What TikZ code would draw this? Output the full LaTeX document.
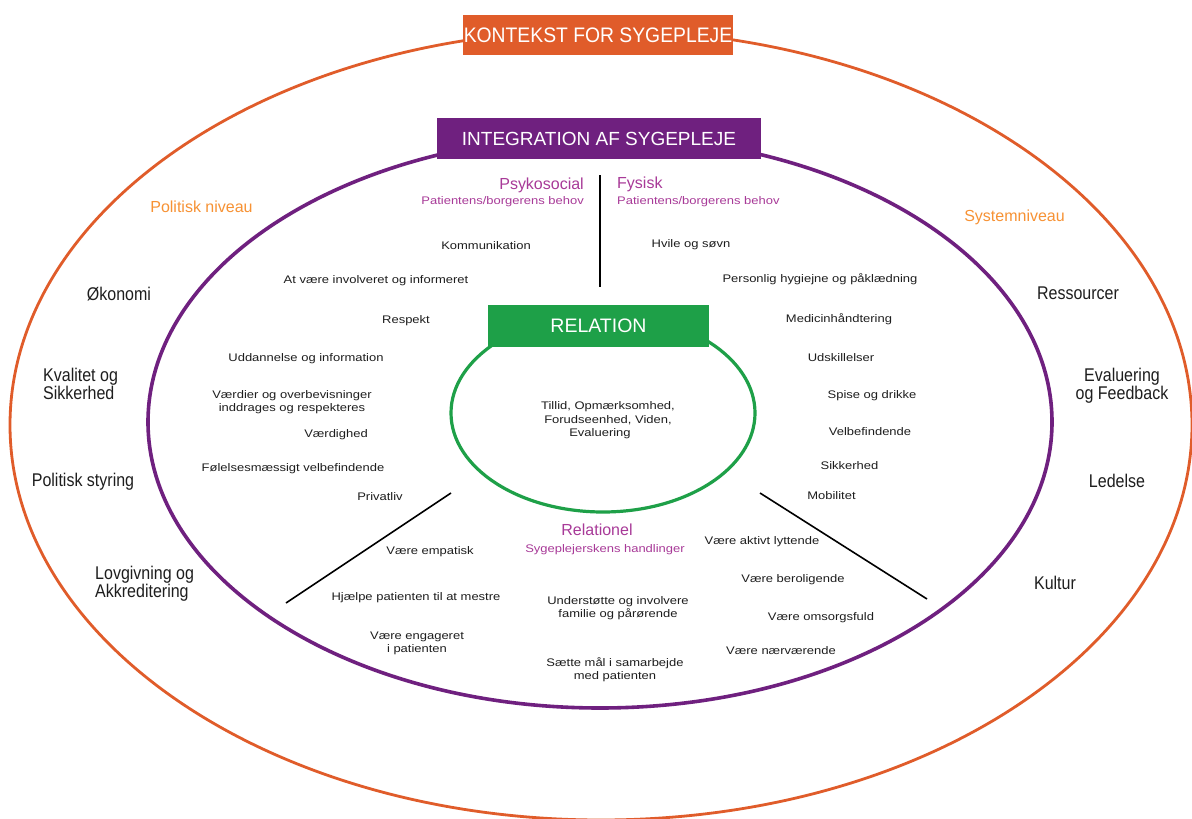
\documentclass[tikz,border=0pt]{standalone}
\usepackage{fontspec}
\setmainfont{Liberation Sans}
\newfontfamily\smallf[FakeStretch=1.18]{Liberation Sans}
\newfontfamily\bigf[FakeStretch=0.87]{Liberation Sans}
\newfontfamily\titlef[FakeStretch=0.92]{Liberation Sans}
\definecolor{ctxorange}{RGB}{224,92,42}
\definecolor{lblorange}{RGB}{247,146,52}
\definecolor{intpurple}{RGB}{111,32,127}
\definecolor{relgreen}{RGB}{30,160,72}
\definecolor{catpurple}{RGB}{168,58,152}
\definecolor{txtgray}{RGB}{30,30,30}
\tikzset{
  smalltxt/.style={font=\smallf\fontsize{11}{13}\selectfont, inner sep=0pt, align=center, text=txtgray},
  outertxt/.style={font=\bigf\fontsize{18.4}{15}\selectfont, inner sep=0pt, text=txtgray},
  leveltxt/.style={font=\fontsize{16}{19}\selectfont, inner sep=0pt, text=lblorange},
  cattxt/.style={font=\fontsize{16}{19}\selectfont, inner sep=0pt, text=catpurple},
  subtxt/.style={font=\smallf\fontsize{11}{13}\selectfont, inner sep=0pt, text=catpurple},
  titlebox/.style={inner sep=0pt, text=white, font=\titlef\fontsize{21}{23}\selectfont},
  divider/.style={draw=black, line width=1.6pt}
}
\begin{document}
\begin{tikzpicture}[x=1pt,y=-1pt]
\useasboundingbox (0,0) rectangle (1192,819);
\clip (0,0) rectangle (1192,819);
\fill[white] (0,0) rectangle (1192,819);

% ellipses
\draw[ctxorange, line width=2.8pt] (601,425) ellipse [x radius=591pt, y radius=395pt];
\draw[intpurple, line width=3.6pt] (600,422) ellipse [x radius=452pt, y radius=286pt];
\draw[relgreen, line width=3.2pt] (603,413) ellipse [x radius=152pt, y radius=99pt];

% title boxes
\node[titlebox, fill=ctxorange, minimum width=270pt, minimum height=40pt] (kontekst) at (598,35) {KONTEKST FOR SYGEPLEJE};
\node[titlebox, fill=intpurple, minimum width=324pt, minimum height=41pt, font=\fontsize{19}{21}\selectfont] (integration) at (599,138.5) {INTEGRATION AF SYGEPLEJE};
\node[titlebox, fill=relgreen, minimum width=221pt, minimum height=42pt, font=\fontsize{19.5}{21}\selectfont] (relation) at (598.5,326) {RELATION};

% dividers
\coordinate (vtop) at (600,175);
\coordinate (vbot) at (600,287);
\coordinate (ltop) at (451,493);
\coordinate (lbot) at (286,603);
\coordinate (rtop) at (760,493);
\coordinate (rbot) at (927,599);
\draw[divider] (vtop) -- (vbot);
\draw[divider] (ltop) -- (lbot);
\draw[divider] (rtop) -- (rbot);

% level labels
\node[leveltxt] (politisk) at (201.5,207) {Politisk niveau};
\node[leveltxt] (system) at (1014.5,217) {Systemniveau};

% outer labels left
\node[outertxt] (okonomi) at (119,294) {Økonomi};
\node[outertxt, anchor=west, align=left] (kvalitet) at (43,383.5) {Kvalitet og\\Sikkerhed};
\node[outertxt] (styring) at (83,482) {Politisk styring};
\node[outertxt, anchor=west, align=left] (lovgivning) at (95,583.5) {Lovgivning og\\Akkreditering};

% outer labels right
\node[outertxt] (ressourcer) at (1078,293) {Ressourcer};
\node[outertxt, align=center] (evaluering) at (1122,385.5) {Evaluering\\og Feedback};
\node[outertxt] (ledelse) at (1117,481) {Ledelse};
\node[outertxt] (kultur) at (1055,583) {Kultur};

% category headings
\node[cattxt, anchor=east] (psyko) at (584,185) {Psykosocial};
\node[subtxt, anchor=east] (psykosub) at (584,202) {Patientens/borgerens behov};
\node[cattxt, anchor=west] (fysisk) at (617,184) {Fysisk};
\node[subtxt, anchor=west] (fysisksub) at (617,202) {Patientens/borgerens behov};
\node[cattxt] (relationel) at (597,530) {Relationel};
\node[subtxt] (relsub) at (605,550) {Sygeplejerskens handlinger};

% psykosocial items
\node[smalltxt] (kommunikation) at (486,246) {Kommunikation};
\node[smalltxt] (involveret) at (376,281) {At være involveret og informeret};
\node[smalltxt] (respekt) at (406,321) {Respekt};
\node[smalltxt] (uddannelse) at (306,359) {Uddannelse og information};
\node[smalltxt] (vaerdier) at (292,402.5) {Værdier og overbevisninger\\inddrages og respekteres};
\node[smalltxt] (vaerdighed) at (336,435) {Værdighed};
\node[smalltxt] (folelses) at (293,469) {Følelsesmæssigt velbefindende};
\node[smalltxt] (privatliv) at (380,497) {Privatliv};

% fysisk items
\node[smalltxt] (hvile) at (691,245) {Hvile og søvn};
\node[smalltxt] (hygiejne) at (820,279) {Personlig hygiejne og påklædning};
\node[smalltxt] (medicin) at (839,319) {Medicinhåndtering};
\node[smalltxt] (udskill) at (841,358) {Udskillelser};
\node[smalltxt] (spise) at (872,396) {Spise og drikke};
\node[smalltxt] (velbef) at (870,432) {Velbefindende};
\node[smalltxt] (sikkerhed) at (849.5,466) {Sikkerhed};
\node[smalltxt] (mobilitet) at (831.5,496) {Mobilitet};

% relation centre
\node[smalltxt, font=\smallf\fontsize{11}{13.5}\selectfont] (tillid) at (608,420.5) {Tillid, Opmærksomhed,\\Forudseenhed, Viden,\\Evaluering\hspace*{16pt}};

% relationel items
\node[smalltxt] (empatisk) at (430,552) {Være empatisk};
\node[smalltxt] (hjaelpe) at (416,598) {Hjælpe patienten til at mestre};
\node[smalltxt] (engageret) at (417,643) {Være engageret\\i patienten};
\node[smalltxt] (understotte) at (618,608.5) {Understøtte og involvere\\familie og pårørende};
\node[smalltxt] (saette) at (615,669.5) {Sætte mål i samarbejde\\med patienten};
\node[smalltxt] (lyttende) at (762,542) {Være aktivt lyttende};
\node[smalltxt] (beroligende) at (793,580) {Være beroligende};
\node[smalltxt] (omsorgsfuld) at (821,618) {Være omsorgsfuld};
\node[smalltxt] (naervaerende) at (781,651) {Være nærværende};
\end{tikzpicture}
\end{document}
